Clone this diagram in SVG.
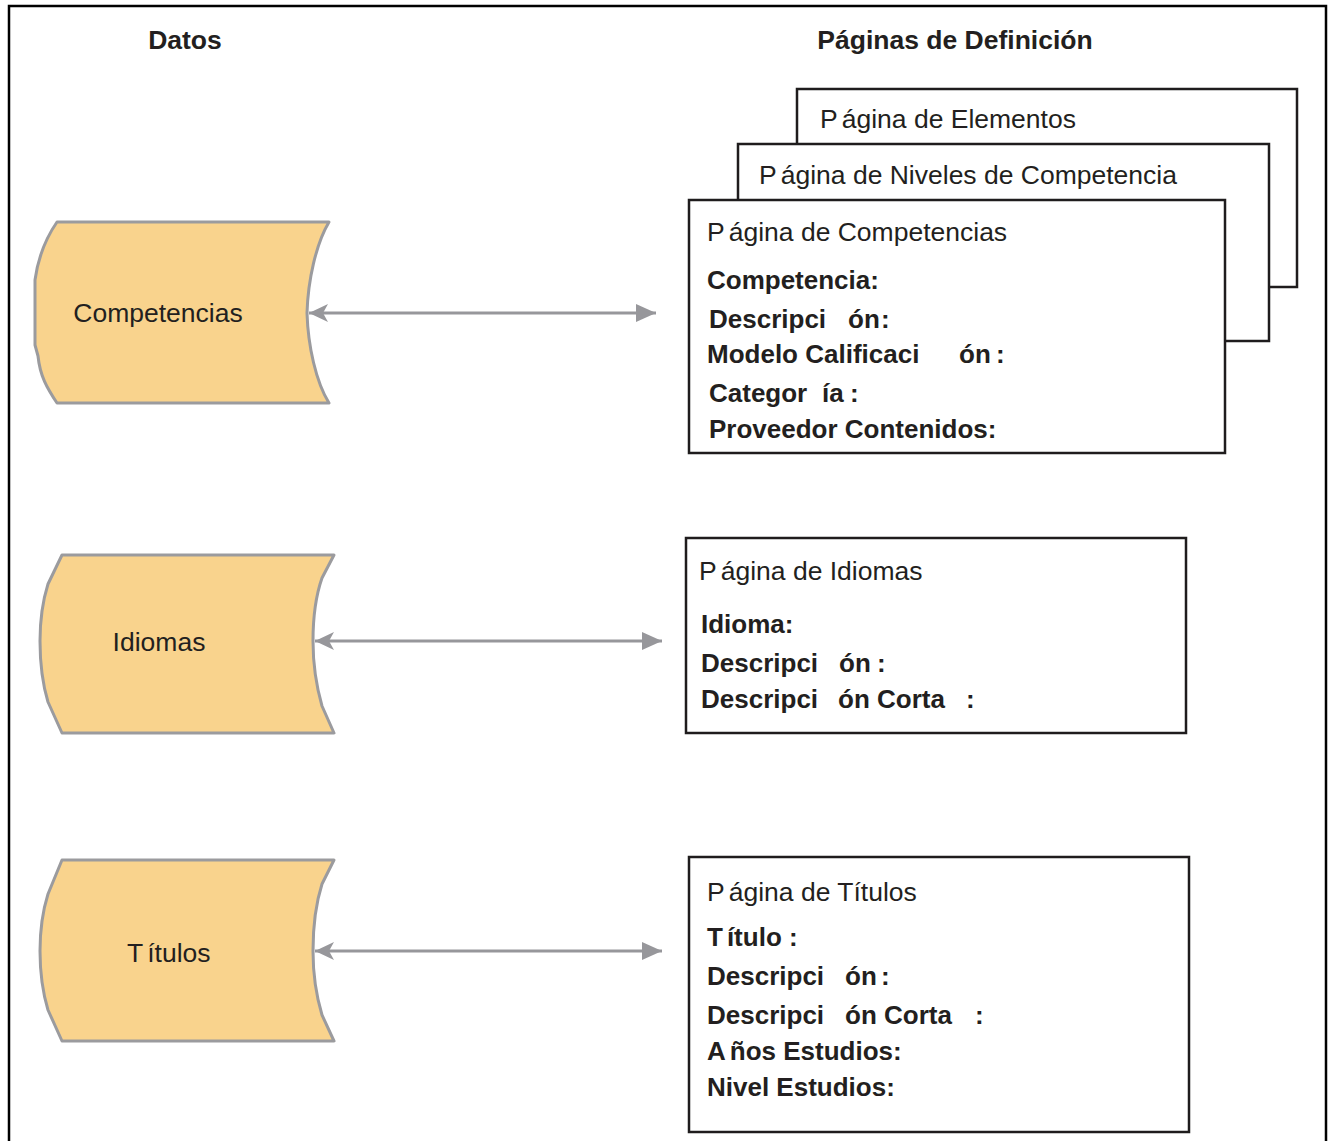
<svg xmlns="http://www.w3.org/2000/svg" width="1328" height="1141" viewBox="0 0 1328 1141">
  <style>
    .frame { fill: none; stroke: #000; stroke-width: 2.5; }
    .data { fill: #f9d38d; stroke: #9b9b9e; stroke-width: 3; stroke-linejoin: round; }
    .page { fill: #fff; stroke: #1f1c1d; stroke-width: 2.5; }
    .link { fill: none; stroke: #97979b; stroke-width: 3; }
    .hdr { font-family: "Liberation Sans", Arial, sans-serif; font-size: 26.5px; font-weight: bold; fill: #231f20; }
    .lbl { font-family: "Liberation Sans", Arial, sans-serif; font-size: 26.5px; fill: #231f20; }
    .fld { font-family: "Liberation Sans", Arial, sans-serif; font-size: 26px; font-weight: bold; fill: #231f20; }
  </style>
  <defs>
    <marker id="head-start" markerUnits="userSpaceOnUse" markerWidth="24" markerHeight="22" refX="1" refY="11" orient="auto">
      <path d="M1,11 L20,2 L15,11 L20,20 Z" fill="#97979b"/>
    </marker>
    <marker id="head-end" markerUnits="userSpaceOnUse" markerWidth="24" markerHeight="22" refX="21" refY="11" orient="auto">
      <path d="M1,2 L21,11 L1,20 Z" fill="#97979b"/>
    </marker>
  </defs>

  <rect width="1328" height="1141" fill="#fff"/>
  <!-- outer frame, open at the bottom -->
  <path class="frame" d="M9,1141 V6 H1326 V1141"/>

  <!-- column headings -->
  <text class="hdr" x="185" y="49" text-anchor="middle">Datos</text>
  <text class="hdr" x="955" y="49" text-anchor="middle">Páginas de Definición</text>

  <!-- data stores -->
  <g id="data-competencias">
    <path class="data" d="M57,222 L329,222 C316,244 308,280 307,313 C308,346 316,382 329,403 L57,403 C47,388 40,376 38,356 L35,345 L35,280 C38,258 46,238 57,222 Z"/>
    <text class="lbl" x="158" y="322" text-anchor="middle">Competencias</text>
  </g>
  <g id="data-idiomas">
    <path class="data" d="M62,555 L334,555 L322,578 C315,598 313,620 313,641 C313,664 316,685 322,706 L334,733 L62,733 L48,702 C42,682 40,662 40,641 C40,618 43,600 48,584 Z"/>
    <text class="lbl" x="159" y="651" text-anchor="middle">Idiomas</text>
  </g>
  <g id="data-titulos">
    <path class="data" d="M62,860 L334,860 L322,884 C315,906 313,928 313,951 C313,974 316,995 322,1015 L334,1041 L62,1041 L48,1010 C42,990 40,972 40,951 C40,928 43,910 48,894 Z"/>
    <text class="lbl" x="127" y="962">T<tspan dx="4">ítulos</tspan></text>
  </g>

  <!-- definition pages (stacked) -->
  <g id="page-elementos">
    <rect class="page" x="797" y="89" width="500" height="198"/>
    <text class="lbl" x="820" y="128">P<tspan dx="4">ágina de Elementos</tspan></text>
  </g>
  <g id="page-niveles">
    <rect class="page" x="738" y="144" width="531" height="197"/>
    <text class="lbl" x="759" y="184">P<tspan dx="4">ágina de Niveles de Competencia</tspan></text>
  </g>
  <g id="page-competencias">
    <rect class="page" x="689" y="200" width="536" height="253"/>
    <text class="lbl" x="707" y="241">P<tspan dx="4">ágina de Competencias</tspan></text>
    <text class="fld" x="707" y="289">Competencia:</text>
    <text class="fld" x="709" y="328">Descripci<tspan x="848">ón</tspan><tspan x="881">:</tspan></text>
    <text class="fld" x="707" y="363">Modelo Calificaci<tspan x="959">ón</tspan><tspan x="996">:</tspan></text>
    <text class="fld" x="709" y="402">Categor<tspan x="822">ía</tspan><tspan x="850">:</tspan></text>
    <text class="fld" x="709" y="438">Proveedor Contenidos:</text>
  </g>

  <g id="page-idiomas">
    <rect class="page" x="686" y="538" width="500" height="195"/>
    <text class="lbl" x="699" y="580">P<tspan dx="4">ágina de Idiomas</tspan></text>
    <text class="fld" x="701" y="633">Idioma:</text>
    <text class="fld" x="701" y="672">Descripci<tspan x="839">ón</tspan><tspan x="877">:</tspan></text>
    <text class="fld" x="701" y="708">Descripci<tspan x="838">ón Corta</tspan><tspan x="966">:</tspan></text>
  </g>

  <g id="page-titulos">
    <rect class="page" x="689" y="857" width="500" height="275"/>
    <text class="lbl" x="707" y="901">P<tspan dx="4">ágina de Títulos</tspan></text>
    <text class="fld" x="707" y="946">T<tspan dx="4">ítulo :</tspan></text>
    <text class="fld" x="707" y="985">Descripci<tspan x="845">ón</tspan><tspan x="881">:</tspan></text>
    <text class="fld" x="707" y="1024">Descripci<tspan x="845">ón Corta</tspan><tspan x="975">:</tspan></text>
    <text class="fld" x="707" y="1060">A<tspan dx="4">ños Estudios:</tspan></text>
    <text class="fld" x="707" y="1096">Nivel Estudios:</text>
  </g>

  <!-- bidirectional links between data stores and pages -->
  <g id="connectors">
    <line class="link" x1="309" y1="313" x2="656" y2="313" marker-start="url(#head-start)" marker-end="url(#head-end)"/>
    <line class="link" x1="315" y1="641" x2="662" y2="641" marker-start="url(#head-start)" marker-end="url(#head-end)"/>
    <line class="link" x1="315" y1="951" x2="662" y2="951" marker-start="url(#head-start)" marker-end="url(#head-end)"/>
  </g>
</svg>
